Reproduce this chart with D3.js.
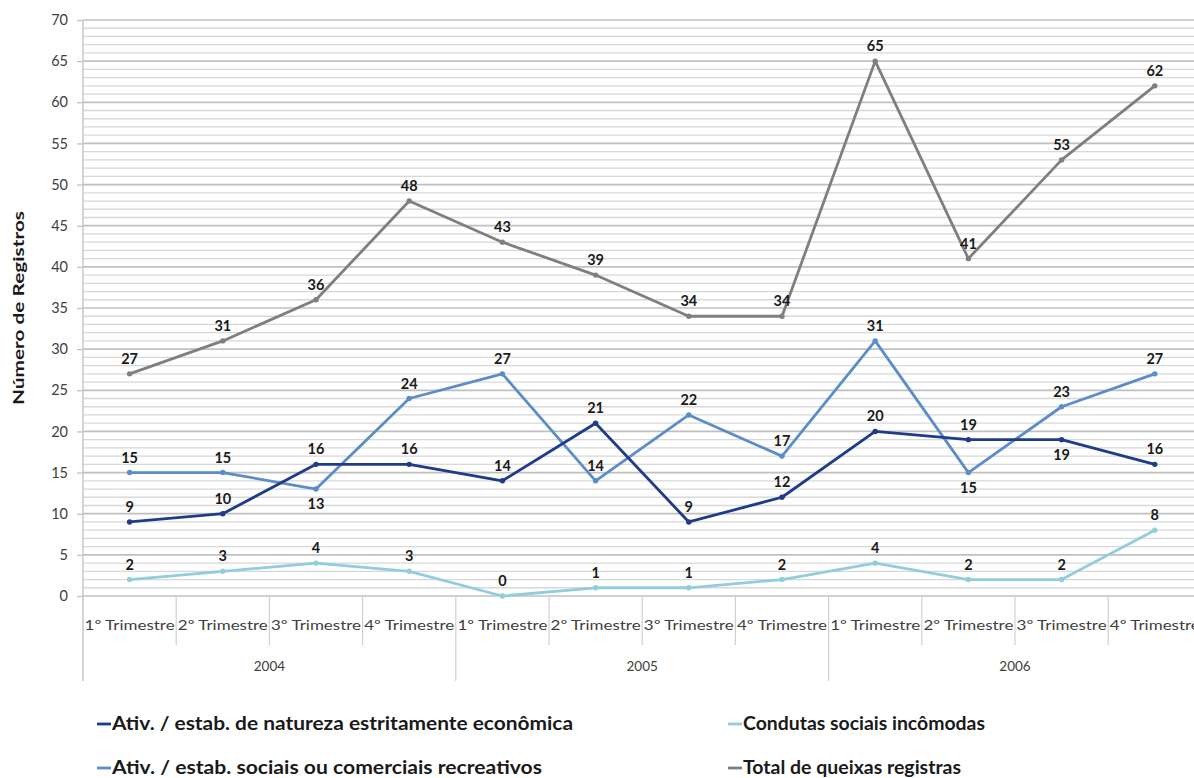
<!DOCTYPE html>
<html>
<head>
<meta charset="utf-8">
<script src="https://cdn.jsdelivr.net/npm/d3@7"></script>
<style>
  html, body { margin: 0; padding: 0; background: #fff; }
  svg { display: block; }
</style>
</head>
<body>
<svg id="chart" width="1194" height="778"></svg>
<script>
// Quarterly complaint records, 2004–2006
const years = ["2004", "2005", "2006"];
const quarters = ["1º Trimestre", "2º Trimestre", "3º Trimestre", "4º Trimestre"];
const yTicks = [0, 5, 10, 15, 20, 25, 30, 35, 40, 45, 50, 55, 60, 65, 70];

const economica   = [9, 10, 16, 16, 14, 21, 9, 12, 20, 19, 19, 16];
const recreativos = [15, 15, 13, 24, 27, 14, 22, 17, 31, 15, 23, 27];
const condutas    = [2, 3, 4, 3, 0, 1, 1, 2, 4, 2, 2, 8];
const total       = [27, 31, 36, 48, 43, 39, 34, 34, 65, 41, 53, 62];

// Label placement: 1 = below the point, otherwise above
const economicaBelow   = [0, 0, 0, 0, 0, 0, 0, 0, 0, 0, 1, 0];
const recreativosBelow = [0, 0, 1, 0, 0, 0, 0, 0, 0, 1, 0, 0];

const seriesNames = [
  "Ativ. / estab. de natureza estritamente econômica",
  "Ativ. / estab. sociais ou comerciais recreativos",
  "Condutas sociais incômodas",
  "Total de queixas registras"
];

const series = [
  { name: seriesNames[0], values: economica,   below: economicaBelow,   color: "#1f3c88" },
  { name: seriesNames[1], values: recreativos, below: recreativosBelow, color: "#5b8ec8" },
  { name: seriesNames[2], values: condutas,    below: null,             color: "#93cddd" },
  { name: seriesNames[3], values: total,       below: null,             color: "#7f7f7f" }
];

const categories = [];
years.forEach(yr => quarters.forEach(q => categories.push(yr + "|" + q)));

const svg = d3.select("#chart");
const plotLeft = 83, plotTop = 20, plotBottom = 596;
const catW = 93.2;
const plotRight = plotLeft + catW * categories.length;
const font = "Lato, 'Open Sans', sans-serif";

const x = d3.scaleBand().domain(categories).range([plotLeft, plotRight]).padding(0);
const y = d3.scaleLinear().domain([0, 70]).range([plotBottom, plotTop]);
const cx = c => x(c) + x.bandwidth() / 2;

// Horizontal grid: one line per unit, heavier on every fifth
const grid = svg.append("g");
grid.selectAll("line.minor")
  .data(d3.range(1, 70).filter(v => v % 5 !== 0))
  .join("line")
  .attr("class", "minor")
  .attr("x1", plotLeft).attr("x2", plotRight)
  .attr("y1", d => y(d)).attr("y2", d => y(d))
  .attr("stroke", "#d8d8d8").attr("stroke-width", 1.3);
grid.selectAll("line.major")
  .data(yTicks)
  .join("line")
  .attr("class", "major")
  .attr("x1", plotLeft).attr("x2", plotRight)
  .attr("y1", d => y(d)).attr("y2", d => y(d))
  .attr("stroke", "#c0c0c0").attr("stroke-width", 1.7);

// Y axis
const yAxis = d3.axisLeft(y).tickValues(yTicks).tickSize(6).tickPadding(9);
const ya = svg.append("g").attr("transform", `translate(${plotLeft},0)`).call(yAxis);
ya.select(".domain").remove();
ya.selectAll(".tick line").attr("stroke", "#bfbfbf").attr("stroke-width", 1.2);
ya.selectAll(".tick text")
  .attr("fill", "#404040")
  .style("font-family", font)
  .style("font-size", "14.5px");

// Vertical axis line running down through the category area
svg.append("line")
  .attr("x1", plotLeft).attr("x2", plotLeft).attr("y1", plotTop).attr("y2", 681)
  .attr("stroke", "#c4c4c4").attr("stroke-width", 1.4);

// Category dividers
svg.append("g").selectAll("line")
  .data(categories.slice(1))
  .join("line")
  .attr("x1", d => x(d)).attr("x2", d => x(d))
  .attr("y1", plotBottom).attr("y2", (d, i) => ((i + 1) % 4 === 0 ? 681 : 645))
  .attr("stroke", "#d0d0d0").attr("stroke-width", 1.2);

// Quarter labels
svg.append("g").selectAll("text")
  .data(categories)
  .join("text")
  .attr("x", d => cx(d)).attr("y", 630)
  .attr("text-anchor", "middle")
  .attr("fill", "#404040")
  .style("font-family", font)
  .style("font-size", "13.5px")
  .attr("textLength", 90)
  .attr("lengthAdjust", "spacingAndGlyphs")
  .text(d => d.split("|")[1]);

// Year labels
svg.append("g").selectAll("text")
  .data(years)
  .join("text")
  .attr("x", (d, i) => (x(categories[i * 4]) + x(categories[i * 4 + 3]) + x.bandwidth()) / 2)
  .attr("y", 671)
  .attr("text-anchor", "middle")
  .attr("fill", "#404040")
  .style("font-family", font)
  .style("font-size", "13.5px")
  .text(d => d);

// Y axis title
svg.append("text")
  .attr("transform", `translate(24,308) rotate(-90)`)
  .attr("text-anchor", "middle")
  .attr("fill", "#1a1a1a")
  .style("font-family", font)
  .style("font-weight", "bold")
  .style("font-size", "16px")
  .attr("textLength", 194)
  .attr("lengthAdjust", "spacingAndGlyphs")
  .text("Número de Registros");

// Lines, markers and value labels
const line = d3.line().x((d, i) => cx(categories[i])).y(d => y(d));
const drawOrder = [2, 3, 1, 0];
drawOrder.forEach(si => {
  const s = series[si];
  const sg = svg.append("g");
  sg.append("path")
    .datum(s.values)
    .attr("d", line)
    .attr("fill", "none")
    .attr("stroke", s.color)
    .attr("stroke-width", 2.8)
    .attr("stroke-linejoin", "round");
  sg.selectAll("circle")
    .data(s.values)
    .join("circle")
    .attr("cx", (d, i) => cx(categories[i]))
    .attr("cy", d => y(d))
    .attr("r", 2.7)
    .attr("fill", s.color);
});
drawOrder.forEach(si => {
  const s = series[si];
  svg.append("g").selectAll("text")
    .data(s.values)
    .join("text")
    .attr("x", (d, i) => cx(categories[i]))
    .attr("y", (d, i) => (s.below && s.below[i] ? y(d) + 20 : y(d) - 10))
    .attr("text-anchor", "middle")
    .attr("fill", "#1a1a1a")
    .style("font-family", font)
    .style("font-weight", "bold")
    .style("font-size", "14.5px")
    .text(d => d);
});

// Legend
const legendPos = [
  { x: 97, y: 724, w: 461 }, { x: 97, y: 768, w: 430 },
  { x: 728, y: 724, w: 242 }, { x: 728, y: 768, w: 218 }
];
series.forEach((s, i) => {
  const p = legendPos[i];
  const lg = svg.append("g").attr("transform", `translate(${p.x},${p.y})`);
  lg.append("line")
    .attr("x1", 0).attr("x2", 14).attr("y1", 0).attr("y2", 0)
    .attr("stroke", s.color).attr("stroke-width", 2.8);
  lg.append("text")
    .attr("x", 15).attr("y", 6)
    .attr("fill", "#1a1a1a")
    .style("font-family", font)
    .style("font-weight", "bold")
    .style("font-size", "18px")
    .attr("textLength", p.w)
    .attr("lengthAdjust", "spacingAndGlyphs")
    .text(s.name);
});
</script>
</body>
</html>
